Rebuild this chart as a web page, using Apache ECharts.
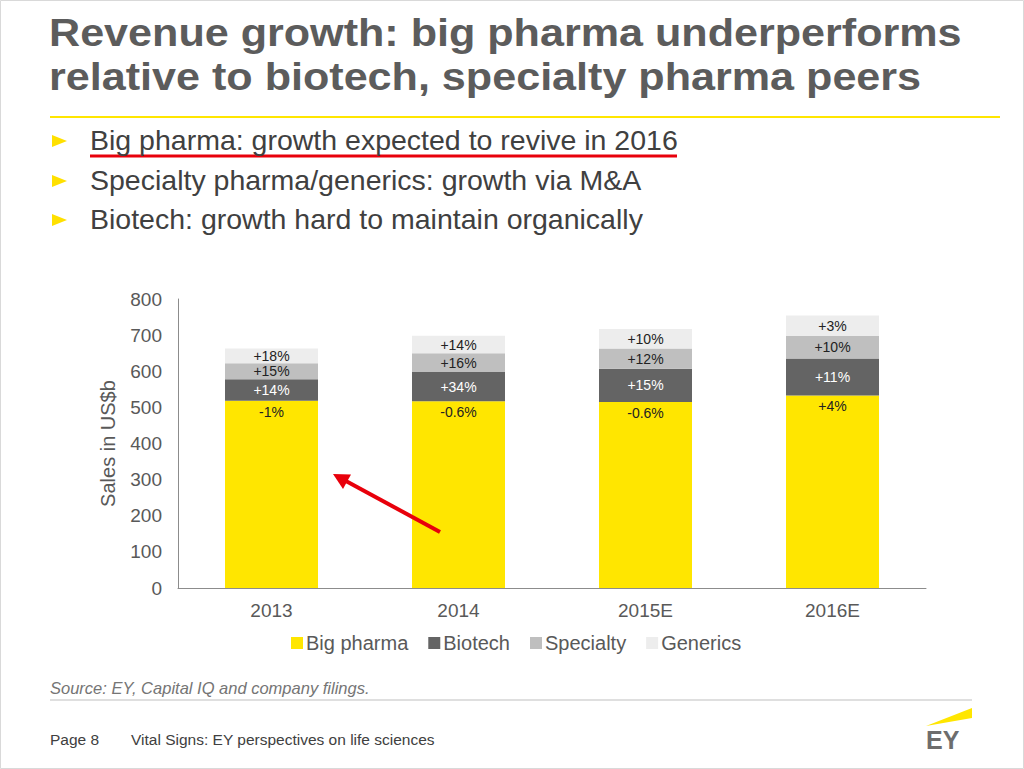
<!DOCTYPE html>
<html><head><meta charset="utf-8">
<script src="https://cdn.jsdelivr.net/npm/echarts@6/dist/echarts.min.js"></script>
<style>html,body{margin:0;padding:0;background:#fff}#c{width:1024px;height:769px}</style>
</head><body><div id="c"></div>
<script>
const categories = ['2013', '2014', '2015E', '2016E'];
const bigPharma = [518, 517, 515, 533];
const biotech = [60, 81, 92, 102];
const specialty = [44, 52, 56, 63];
const generics = [41, 48, 54, 56];
const bigPharmaGrowth = ['-1%', '-0.6%', '-0.6%', '+4%'];
const biotechGrowth = ['+14%', '+34%', '+15%', '+11%'];
const specialtyGrowth = ['+15%', '+16%', '+12%', '+10%'];
const genericsGrowth = ['+18%', '+14%', '+10%', '+3%'];
const yTicks = [0, 100, 200, 300, 400, 500, 600, 700, 800];

const titleLines = ['Revenue growth: big pharma underperforms', 'relative to biotech, specialty pharma peers'];
const bullets = ['Big pharma: growth expected to revive in 2016', 'Specialty pharma/generics: growth via M&A', 'Biotech: growth hard to maintain organically'];

const FONT = 'Liberation Sans, Arial, sans-serif';
const chart = echarts.init(document.getElementById('c'), null, {renderer: 'svg'});

function mkSeries(name, data, labels, color, labelColor, pos) {
  return {
    name, type: 'bar', stack: 'total', data, barWidth: 93,
    itemStyle: {color},
    label: {show: true, position: pos, distance: 4, color: labelColor, fontSize: 14, fontFamily: FONT,
      formatter: p => labels[p.dataIndex]}
  };
}

const graphics = [
  {type: 'rect', shape: {x: 0.5, y: 0.5, width: 1023, height: 768}, style: {fill: 'none', stroke: '#d9d9d9', lineWidth: 1}},
  {type: 'line', shape: {x1: 50, y1: 117, x2: 1000, y2: 117}, style: {stroke: '#FFE600', lineWidth: 2}},
  {type: 'line', shape: {x1: 50, y1: 700, x2: 972, y2: 700}, style: {stroke: '#bfbfbf', lineWidth: 1}},
  {type: 'text', left: 50, top: 679, style: {text: 'Source: EY, Capital IQ and company filings.', font: 'italic 16.5px ' + FONT, fill: '#757575'}},
  {type: 'text', left: 50, top: 731, style: {text: 'Page 8', font: '15.5px ' + FONT, fill: '#404040'}},
  {type: 'text', left: 131, top: 731, style: {text: 'Vital Signs: EY perspectives on life sciences', font: '15.5px ' + FONT, fill: '#404040'}},
  {type: 'polygon', shape: {points: [[926, 726], [972, 708], [972, 718]]}, style: {fill: '#FFE600'}},
  {type: 'text', left: 926, top: 727, style: {text: 'EY', font: 'bold 25px ' + FONT, fill: '#6d6d6d'}},
  {type: 'line', shape: {x1: 90, y1: 156, x2: 677, y2: 156}, style: {stroke: '#e8000b', lineWidth: 3}},
  {type: 'line', shape: {x1: 440, y1: 532, x2: 345, y2: 480.5}, style: {stroke: '#e8000b', lineWidth: 4}},
  {type: 'polygon', shape: {points: [[333, 474], [351, 474.6], [343, 489]]}, style: {fill: '#e8000b'}}
];
const titleCenters = [33, 77];
titleLines.forEach((t, i) => {
  graphics.push({type: 'text', x: 49, y: titleCenters[i], scaleX: 1.15, scaleY: 1.03, originX: 0, originY: 0,
    style: {text: t, font: 'bold 37.5px ' + FONT, verticalAlign: 'middle', fill: '#5c5c5c'}});
});
const bulletCenters = [141, 181, 220];
bullets.forEach((b, i) => {
  const cy = bulletCenters[i];
  graphics.push({type: 'polygon', shape: {points: [[52, cy - 6], [67, cy], [52, cy + 6]]}, style: {fill: '#FFE000'}});
  graphics.push({type: 'text', left: 90, top: cy - 16, style: {text: b, font: '28.5px ' + FONT, fill: '#404040'}});
});
graphics.forEach(g => { g.z = 100; });

chart.setOption({
  animation: false,
  textStyle: {fontFamily: FONT},
  grid: {left: 178, right: 98, top: 299, bottom: 181},
  legend: {
    left: 286, top: 628, itemWidth: 12, itemHeight: 12, itemGap: 20, icon: 'rect',
    textStyle: {fontSize: 20, color: '#595959', fontFamily: FONT, padding: [0, 0, 0, -2]},
    data: ['Big pharma', 'Biotech', 'Specialty', 'Generics']
  },
  xAxis: {
    type: 'category', data: categories,
    axisLine: {lineStyle: {color: '#8c8c8c'}}, axisTick: {show: false},
    axisLabel: {color: '#595959', fontSize: 19, margin: 13}
  },
  yAxis: {
    type: 'value', min: yTicks[0], max: yTicks[yTicks.length - 1], interval: 100,
    name: 'Sales in US$b', nameLocation: 'middle', nameGap: 60, nameRotate: 90,
    nameTextStyle: {color: '#595959', fontSize: 20, fontFamily: FONT},
    axisLine: {show: true, lineStyle: {color: '#8c8c8c'}}, axisTick: {show: false},
    splitLine: {show: false},
    axisLabel: {color: '#595959', fontSize: 19, margin: 16}
  },
  series: [
    mkSeries('Big pharma', bigPharma, bigPharmaGrowth, '#FFE600', '#222', 'insideTop'),
    mkSeries('Biotech', biotech, biotechGrowth, '#646464', '#fff', 'inside'),
    mkSeries('Specialty', specialty, specialtyGrowth, '#bfbfbf', '#222', 'inside'),
    mkSeries('Generics', generics, genericsGrowth, '#ededed', '#222', 'inside')
  ],
  graphic: graphics
});
</script></body></html>
